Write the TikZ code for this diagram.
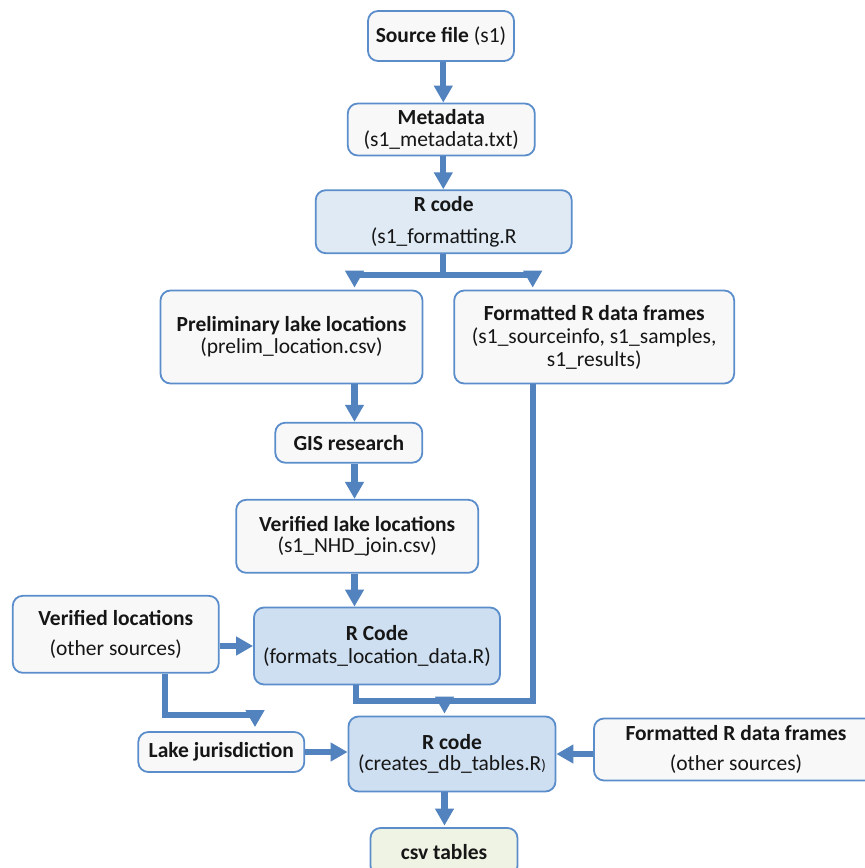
\documentclass[tikz,border=0pt]{standalone}
\usepackage{fontspec}
\setmainfont{Carlito}
\usetikzlibrary{arrows.meta}
\definecolor{bordc}{HTML}{5B8DCB}
\definecolor{arrc}{HTML}{5283BF}
\definecolor{wfill}{HTML}{F8F8F8}
\definecolor{bfillA}{HTML}{DFEAF5}
\definecolor{bfillB}{HTML}{CEDFF1}
\definecolor{gfill}{HTML}{EEF3E3}
\definecolor{txt}{HTML}{161616}
\tikzset{
  box/.style={draw=bordc, line width=1.8pt, rounded corners=10pt, fill=wfill, align=center,
    inner sep=0pt, text=txt, font=\fontsize{21.5}{21.7}\selectfont},
  conn/.style={draw=arrc, line width=6.3pt},
  arr/.style={conn, -{Triangle[width=18pt,length=17pt]}},
}
\begin{document}
\begin{tikzpicture}[x=1pt,y=-1pt]
\useasboundingbox (0,0) rectangle (865,868);
% nodes
\node[box, minimum width=146pt, minimum height=50pt] (src) at (441,36) {\textbf{Source file} (s1)};
\node[box, minimum width=187pt, minimum height=52pt] (meta) at (441.3,129.5) {\textbf{Metadata}\\(s1\_metadata.txt)};
\node[box, fill=bfillA, minimum width=256pt, minimum height=63pt] (rc1) at (443.7,221.7) {\textbf{R code}\\[10.6pt](s1\_formatting.R};
\node[box, minimum width=262pt, minimum height=93pt] (prelim) at (291.5,337) {\textbf{Preliminary lake locations}\\(prelim\_location.csv)};
\node[box, minimum width=280pt, minimum height=93pt, font=\fontsize{21.5}{23}\selectfont] (fmt) at (594.2,337) {\textbf{Formatted R data frames}\\(s1\_sourceinfo, s1\_samples,\\s1\_results)};
\node[box, minimum width=147pt, minimum height=40pt] (gis) at (348.8,442.7) {\textbf{GIS research}};
\node[box, minimum width=242pt, minimum height=73pt] (verl) at (357.2,536.3) {\textbf{Verified lake locations}\\(s1\_NHD\_join.csv)};
\node[box, minimum width=206pt, minimum height=77pt] (vero) at (115.8,634.3) {\textbf{Verified locations}\\[9pt](other sources)};
\node[box, fill=bfillB, minimum width=246pt, minimum height=77pt] (rc2) at (377,646) {\textbf{R Code}\\[1pt](formats\_location\_data.R)};
\node[box, minimum width=166pt, minimum height=40pt] (lake) at (221.3,752) {\textbf{Lake jurisdiction}};
\node[box, fill=bfillB, minimum width=207pt, minimum height=75pt] (rc3) at (452,754) {\textbf{R code}\\(creates\_db\_tables.R{\fontsize{15}{16}\selectfont )}};
\node[box, minimum width=284pt, minimum height=62pt] (fmto) at (736,749.5) {\textbf{Formatted R data frames}\\[9pt](other sources)};
\node[box, fill=gfill, minimum width=147pt, minimum height=48pt] (csv) at (444,852) {\textbf{csv tables}};
% helper coordinates
\coordinate (colT) at (443.3,0);
\coordinate (colA) at (354.5,0);
\coordinate (colB) at (532.7,0);
\coordinate (colC) at (356,0);
\coordinate (colD) at (444.5,0);
\coordinate (colE) at (165,0);
\coordinate (colF) at (255,0);
\coordinate (split) at (0,275);
\coordinate (splitTop) at (0,271.3);
\coordinate (mrg) at (0,701.3);
\coordinate (jl) at (0,714.7);
\coordinate (jlTop) at (0,711.3);
% connectors
\draw[arr] (colT |- src.south) -- (colT |- meta.north);
\draw[arr] (colT |- meta.south) -- (colT |- rc1.north);
\draw[conn] (colT |- rc1.south) -- (colT |- split);
\draw[conn] (colA |- split) -- (colB |- split);
\draw[arr, shorten >=2pt] (colA |- splitTop) -- (colA |- prelim.north);
\draw[arr, shorten >=2pt] (colB |- splitTop) -- (colB |- fmt.north);
\draw[arr] (colA |- prelim.south) -- (colA |- gis.north);
\draw[arr] (colA |- gis.south) -- (colA |- verl.north);
\draw[arr] (colA |- verl.south) -- (colA |- rc2.north);
\draw[arr] (vero.east |- rc2.west) -- (rc2.west);
\draw[conn, line join=miter] (colC |- rc2.south) -- (colC |- mrg) -- (colB |- mrg) -- (colB |- fmt.south);
\draw[arr, shorten >=2pt] (colD |- mrg) -- (colD |- rc3.north);
\draw[conn, line join=miter] (colE |- vero.south) -- (colE |- jl) -- (colF |- jl);
\draw[arr, shorten >=4pt] (colF |- jlTop) -- (colF |- lake.north);
\draw[arr] (lake.east) -- (lake.east -| rc3.west);
\draw[arr] (fmto.west |- rc3.east) -- (rc3.east);
\draw[arr, shorten >=1.5pt] (colD |- rc3.south) -- (colD |- csv.north);
\end{tikzpicture}
\end{document}
